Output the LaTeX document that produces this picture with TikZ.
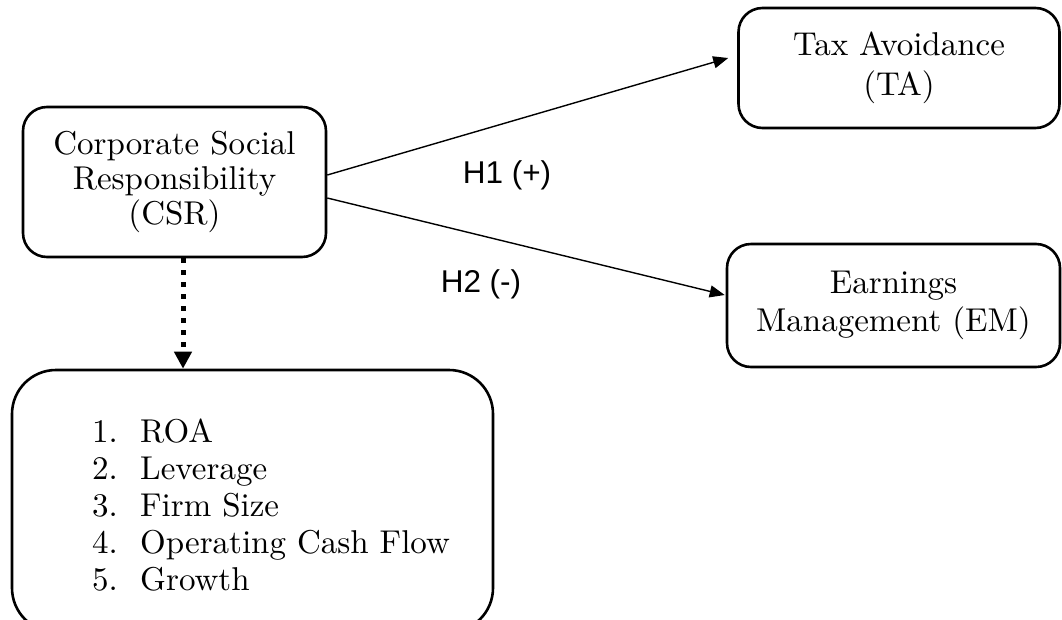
\documentclass[tikz,border=0pt]{standalone}
\usepackage{fontspec}
\setmainfont{lmroman10-regular.otf}
\newfontfamily\arialfont{Liberation Sans}
\usetikzlibrary{arrows.meta}
\begin{document}
\begin{tikzpicture}[x=1pt,y=-1pt,
  box/.style={draw, line width=2.6pt, rounded corners=24pt, align=center, inner sep=0pt},
  link/.style={line width=1.4pt, -{Triangle[length=15pt,width=12pt]}},
  dotlink/.style={line width=5pt, dash pattern=on 5pt off 7pt, -{Triangle[length=17pt,width=17pt]}},
  hlabel/.style={font=\arialfont\fontsize{31.5}{36}\selectfont, inner sep=0pt, anchor=base}]
\clip (0,0) rectangle (1062,619);
\node[box, minimum width=303pt, minimum height=150pt, font=\fontsize{33}{35}\selectfont] (csr) at (174.5,182) {Corporate Social\\Responsibility\\(CSR)};
\node[box, minimum width=321pt, minimum height=120pt, font=\fontsize{33}{40}\selectfont] (ta) at (899,68) {Tax Avoidance\\(TA)};
\node[box, minimum width=333pt, minimum height=123pt, font=\fontsize{33}{38}\selectfont] (em) at (893.5,305.5) {Earnings\\Management (EM)};
\node[box, rounded corners=44pt, minimum width=481pt, minimum height=262pt] (ctrl) at (252.5,501) {};
\node[anchor=base west, inner sep=0pt, font=\fontsize{33}{37}\selectfont] (ctrltext) at (92,442) {\begin{tabular}[t]{@{}p{48pt}@{}l@{}}1. & ROA\\2. & Leverage\\3. & Firm Size\\4. & Operating Cash Flow\\5. & Growth\end{tabular}};
\draw[link] ([yshift=7pt]csr.east) -- ([xshift=-9pt,yshift=10pt]ta.west);
\draw[link] ([yshift=-16pt]csr.east) -- ([xshift=-1pt,yshift=10.5pt]em.west);
\draw[dotlink] ([xshift=8.5pt]csr.south) -- ([xshift=8.5pt]csr.south |- ctrl.north);
\node[hlabel] (h1) at (507,183.5) {H1 (+)};
\node[hlabel] (h2) at (481,292) {H2 (-)};
\end{tikzpicture}
\end{document}
